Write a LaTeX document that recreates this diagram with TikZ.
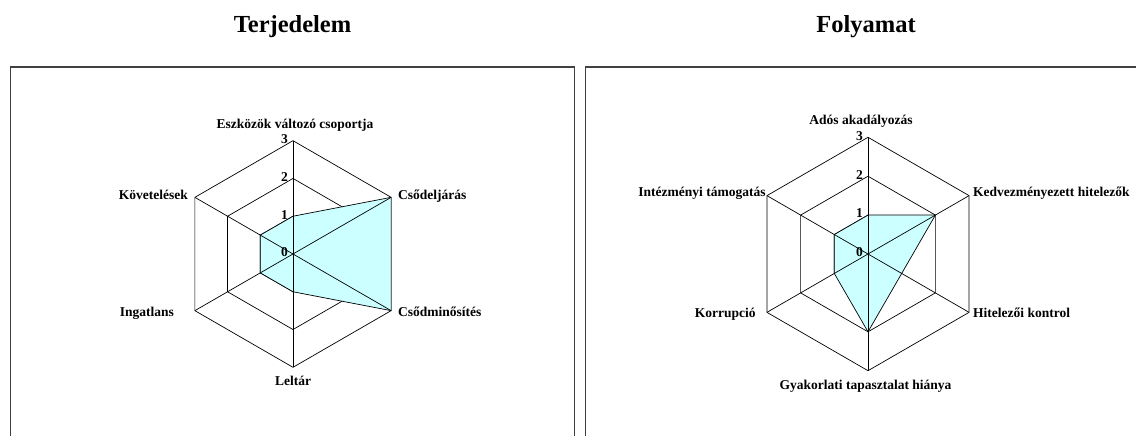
\documentclass[tikz,border=0pt]{standalone}
\usepackage{fontspec}
\setmainfont{Liberation Serif}
\definecolor{radarfill}{HTML}{CCFFFF}
\newcommand\hexring[1]{\draw[grid] (90:#1) -- (30:#1) -- (-30:#1) -- (-90:#1) -- (-150:#1) -- (150:#1) -- cycle;}
\begin{document}
\begin{tikzpicture}[x=1pt,y=1pt,
    frame/.style={draw=black!75,line width=1.3pt},
    grid/.style={draw=black,line width=0.7pt},
    area/.style={fill=radarfill,draw=black,line width=0.7pt},
    axlabel/.style={font=\bfseries\fontsize{13.5}{15}\selectfont,inner sep=0pt,text height=1.5ex,text depth=.25ex},
    tick/.style={axlabel,anchor=east},
    title/.style={font=\bfseries\fontsize{24.5}{28}\selectfont,inner sep=0pt}]
  \useasboundingbox (0,0) rectangle (1136,436);
  % keretek
  \draw[frame] (10.7,0) -- (10.7,369) -- (574.7,369) -- (574.7,0);
  \draw[frame] (585.7,0) -- (585.7,369) -- (1136,369);
  \node[title] (terj) at (292.5,409) {Terjedelem};
  \node[title] (foly) at (866,409) {Folyamat};

  % Terjedelem
  \begin{scope}[shift={(293,182)}]
    \def\r{37.77}
    \hexring{\r}
    \hexring{2*\r}
    \hexring{3*\r}
    \draw[area] (90:\r) -- (30:3*\r) -- (-30:3*\r) -- (-90:\r) -- (-150:\r) -- (150:\r) -- cycle;
    \draw[grid] (90:3*\r) -- (-90:3*\r);
    \draw[grid] (30:3*\r) -- (-150:3*\r);
    \draw[grid] (150:3*\r) -- (-30:3*\r);
    \node[tick] (t0) at (-5,0) {0};
    \node[tick] (t1) at (-5,\r) {1};
    \node[tick] (t2) at (-5,2*\r) {2};
    \node[tick] (t3) at (-5,3*\r) {3};
    \node[axlabel] (eszk) at (2,128) {Eszközök változó csoportja};
    \node[axlabel,anchor=west] (csodelj) at (105,57.3) {Csődeljárás};
    \node[axlabel,anchor=west] (csodmin) at (105,-59.3) {Csődminősítés};
    \node[axlabel] (leltar) at (0,-129) {Leltár};
    \node[axlabel,anchor=east] (ingatl) at (-119,-59.3) {Ingatlans};
    \node[axlabel,anchor=east] (kovet) at (-105,57) {Követelések};
  \end{scope}

  % Folyamat
  \begin{scope}[shift={(868,182)}]
    \def\r{38.9}
    \hexring{\r}
    \hexring{2*\r}
    \hexring{3*\r}
    \draw[area] (90:\r) -- (30:2*\r) -- (-30:\r) -- (-90:2*\r) -- (-150:\r) -- (150:\r) -- cycle;
    \draw[grid] (90:3*\r) -- (-90:3*\r);
    \draw[grid] (30:3*\r) -- (-150:3*\r);
    \draw[grid] (150:3*\r) -- (-30:3*\r);
    \node[tick] (f0) at (-5,0) {0};
    \node[tick] (f1) at (-5,\r) {1};
    \node[tick] (f2) at (-5,2*\r) {2};
    \node[tick] (f3) at (-5,3*\r) {3};
    \node[axlabel] (ados) at (-7,132.3) {Adós akadályozás};
    \node[axlabel,anchor=west] (kedv) at (105,60) {Kedvezményezett hitelezők};
    \node[axlabel,anchor=west] (hitel) at (105,-61) {Hitelezői kontrol};
    \node[axlabel] (gyak) at (-2.5,-133) {Gyakorlati tapasztalat hiánya};
    \node[axlabel,anchor=east] (korr) at (-112.3,-61) {Korrupció};
    \node[axlabel,anchor=east] (intez) at (-102.3,60) {Intézményi támogatás};
  \end{scope}
\end{tikzpicture}
\end{document}
